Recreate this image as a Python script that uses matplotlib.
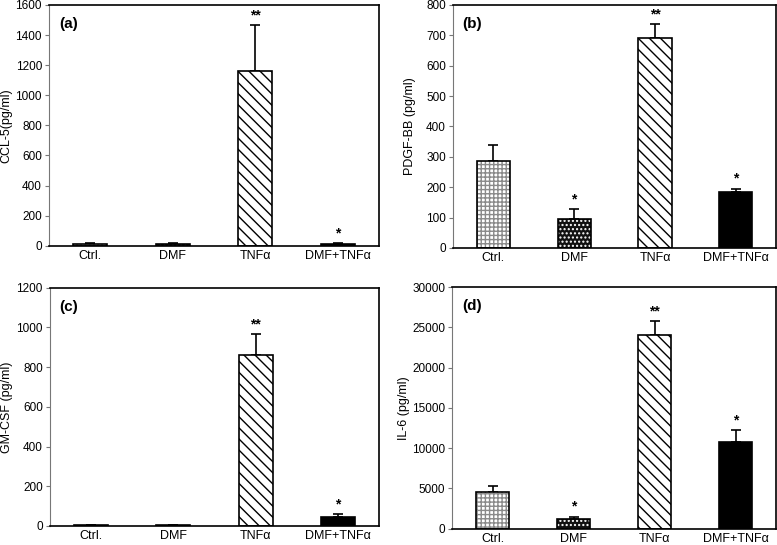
import matplotlib
matplotlib.use("Agg")
import matplotlib.pyplot as plt
import numpy as np

plt.rcParams["font.family"] = ["Liberation Sans", "DejaVu Sans"]
plt.rcParams["hatch.linewidth"] = 1.0

CATEGORIES = ["Ctrl.", "DMF", "TNF\u03b1", "DMF+TNF\u03b1"]

CCL5 = [12, 12, 1160, 12]
CCL5_ERR = [4, 4, 305, 5]
CCL5_SIG = ["", "", "**", "*"]

PDGF = [285, 97, 690, 183]
PDGF_ERR = [53, 31, 47, 12]
PDGF_SIG = ["", "*", "**", "*"]

GMCSF = [4, 4, 860, 47]
GMCSF_ERR = [1, 1, 105, 11]
GMCSF_SIG = ["", "", "**", "*"]

IL6 = [4500, 1200, 24100, 10800]
IL6_ERR = [750, 300, 1700, 1400]
IL6_SIG = ["", "*", "**", "*"]

# label, ylabel, values, errors, marks, ymax, tick step, axes rect, ylabel x
PANELS = [
    ("(a)", "CCL-5(pg/ml)", CCL5, CCL5_ERR, CCL5_SIG, 1600, 200, [0.063, 0.549, 0.425, 0.442], -0.11),
    ("(b)", "PDGF-BB (pg/ml)", PDGF, PDGF_ERR, PDGF_SIG, 800, 100, [0.583, 0.545, 0.416, 0.446], -0.115),
    ("(c)", "GM-CSF (pg/ml)", GMCSF, GMCSF_ERR, GMCSF_SIG, 1200, 200, [0.064, 0.035, 0.424, 0.437], -0.11),
    ("(d)", "IL-6 (pg/ml)", IL6, IL6_ERR, IL6_SIG, 30000, 5000, [0.582, 0.030, 0.417, 0.443], -0.13),
]

# fill, hatch, hatch colour for each group
STYLES = [
    ("white", "++++", "#8a8a8a"),
    ("#111111", "....", "white"),
    ("white", "\\\\\\", "black"),
    ("black", "", "black"),
]

fig = plt.figure(figsize=(7.77, 5.45), dpi=100)
x = np.arange(len(CATEGORIES))
bw = 0.41

for label, ylabel, vals, errs, sig, ymax, step, pos, ylx in PANELS:
    ax = fig.add_axes(pos)
    for i, (v, e) in enumerate(zip(vals, errs)):
        fc, hatch, hc = STYLES[i]
        ax.bar(x[i], v, width=bw, color=fc, hatch=hatch, edgecolor=hc, linewidth=0, zorder=2)
        ax.bar(x[i], v, width=bw, fill=False, edgecolor="black", linewidth=1.2, zorder=3)
        ax.errorbar(x[i], v, yerr=[[0], [e]], fmt="none", ecolor="black",
                    elinewidth=1.2, capsize=3.5, capthick=1.2, zorder=1)
        if sig[i]:
            ax.text(x[i], v + e + ymax * 0.012, sig[i], ha="center", va="bottom",
                    fontsize=10, fontweight="bold")
    ax.set_xlim(-0.5, 3.5)
    ax.set_ylim(0, ymax)
    ax.set_yticks(np.arange(0, ymax + 1, step))
    ax.set_xticks(x)
    ax.set_xticklabels(CATEGORIES)
    ax.tick_params(axis="x", length=0, labelsize=9, pad=3)
    ax.tick_params(axis="y", length=3, labelsize=8.5, color="#777777", pad=2)
    ax.set_ylabel(ylabel, fontsize=9)
    ax.yaxis.set_label_coords(ylx, 0.5)
    ax.spines["left"].set_color("#777777")
    for s in ["top", "right", "bottom"]:
        ax.spines[s].set_linewidth(1.2)
    ax.text(0.03, 0.95, label, transform=ax.transAxes, fontsize=11,
            fontweight="bold", va="top", ha="left")

fig.savefig("out.png", dpi=100)
